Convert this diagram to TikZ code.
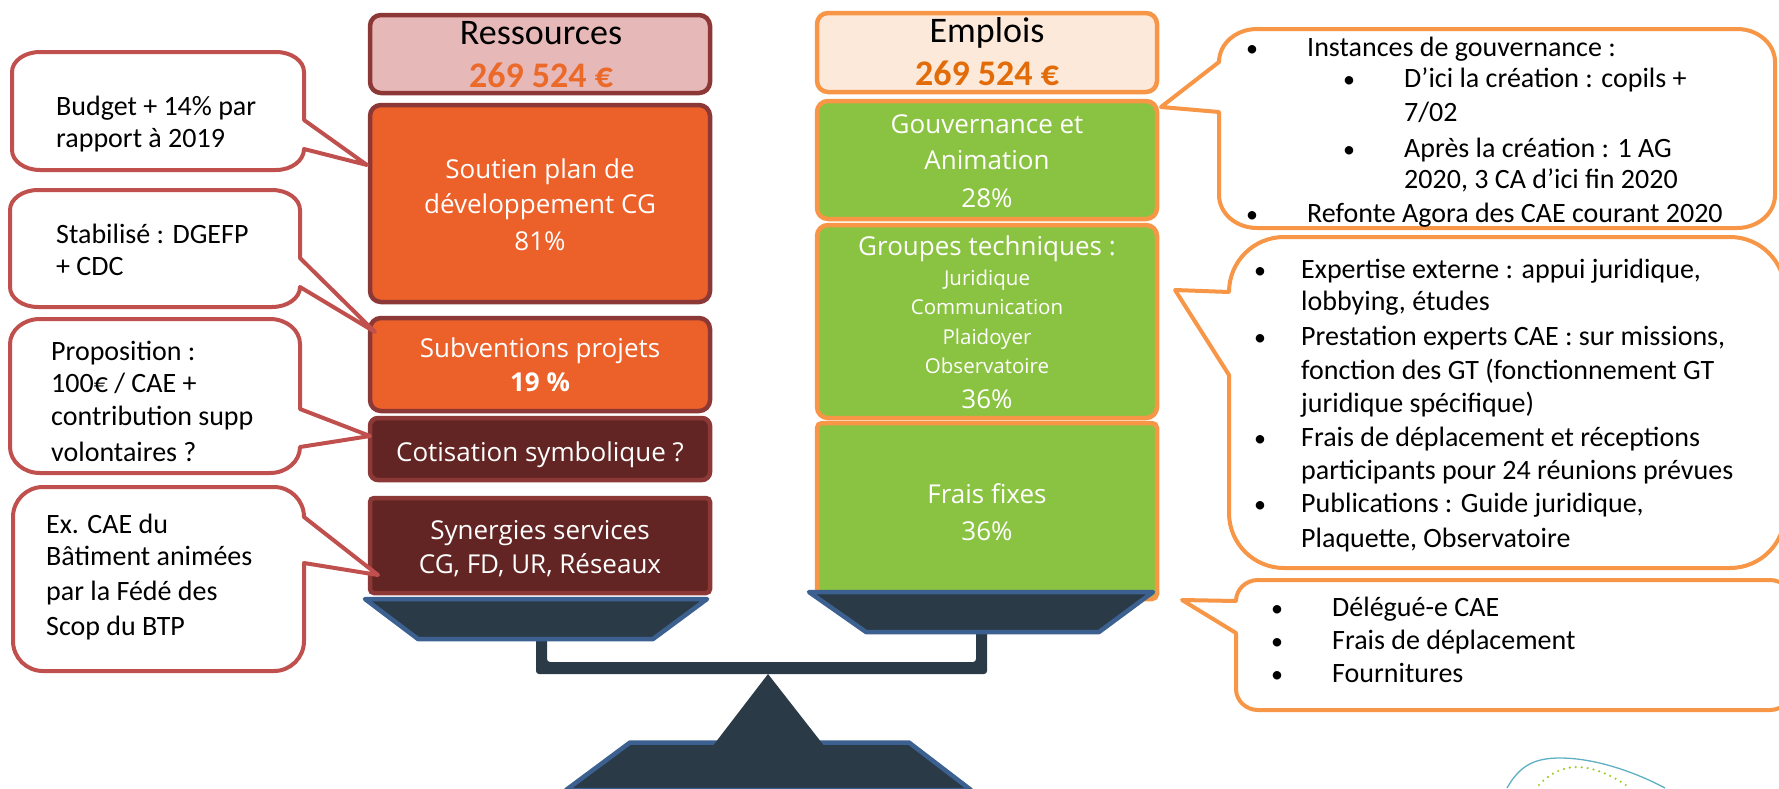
\documentclass[tikz,border=0pt]{standalone}
\usepackage{fontspec}
\setmainfont{Carlito}
\newfontfamily\whitefont{Open Sans}
\definecolor{redline}{HTML}{C0504D}
\definecolor{darkred}{HTML}{8C3836}
\definecolor{pinkfill}{HTML}{E6B8B7}
\definecolor{orangefill}{HTML}{EC602A}
\definecolor{brownfill}{HTML}{632523}
\definecolor{orangeline}{HTML}{F79646}
\definecolor{peach}{HTML}{FDE9D9}
\definecolor{greenfill}{HTML}{8AC341}
\definecolor{slatefill}{HTML}{2A3A47}
\definecolor{blueline}{HTML}{3C6090}
\definecolor{sumleft}{HTML}{EB6A2A}
\definecolor{sumright}{HTML}{E36C0A}
\definecolor{logoblue}{HTML}{5FB0C4}
\definecolor{logogreen}{HTML}{9BCB1E}
\tikzset{x=1pt,y=-1pt,
  rbox/.style={draw=darkred,line width=4.5pt,rounded corners=11pt},
  gbox/.style={draw=orangeline,line width=4.5pt,rounded corners=11pt,fill=greenfill},
  pan/.style={draw=blueline,line width=4.5pt,fill=slatefill,line join=round},
  redcall/.style={draw=redline,line width=4pt,fill=white,line join=round},
  orangecall/.style={draw=orangeline,line width=4pt,fill=white,line join=round},
  t/.style={anchor=base west,inner sep=0pt,font=\fontsize{28}{28}\selectfont,text=black},
  w/.style={anchor=base,inner sep=0pt,font=\whitefont\fontsize{26}{26}\selectfont,text=white},
  wsmall/.style={anchor=base,inner sep=0pt,font=\whitefont\fontsize{20.5}{20.5}\selectfont,text=white},
  hd/.style={anchor=base,inner sep=0pt,font=\fontsize{36}{36}\selectfont,text=black},
  sum/.style={anchor=base,inner sep=0pt,font=\bfseries\fontsize{36}{36}\selectfont},
  bu/.style={anchor=base,inner sep=0pt,font=\fontsize{24}{24}\selectfont,text=black},
}
\begin{document}
\begin{tikzpicture}
\useasboundingbox (0,0) rectangle (1779,788);
\begin{scope}
\clip (0,0) rectangle (1779,788);
% logo
\draw[color=logoblue,line width=1.3pt] (1507,788) .. controls (1520,765) and (1535,758) .. (1560,758) .. controls (1595,758) and (1635,772) .. (1665,788);
\draw[color=logogreen,line width=2.4pt,line cap=round,dash pattern=on 0pt off 6pt] (1539,785) .. controls (1550,773) and (1563,767) .. (1577,767) .. controls (1595,767) and (1615,777) .. (1630,788);
% stand
\path[pan] (630,742.5) -- (909,742.5) -- (971,790) -- (566,790) -- cycle;
\path[fill=slatefill] (768,674) -- (825,747) -- (712,747) -- cycle;
\fill[slatefill,rounded corners=3pt] (536,630) -- (547,630) -- (547,662) -- (976,662) -- (976,630) -- (987,630) -- (987,674) -- (536,674) -- cycle;
\end{scope}
% left boxes
\path[rbox,fill=pinkfill] (370,15) rectangle (710,93);
\node[hd] (resT) at (541,44) {Ressources};
\node[sum,text=sumleft] (resV) at (541,87) {269 524 €};
\path[rbox,fill=orangefill] (370,105) rectangle (710,302);
\node[w] (s1) at (540,178) {Soutien plan de};
\node[w] (s2) at (540,213) {développement CG};
\node[w] (s3) at (540,250) {81\%};
\path[rbox,fill=orangefill] (370,318) rectangle (710,411);
\node[w] (p1) at (540,357) {Subventions projets};
\node[w,font=\whitefont\bfseries\fontsize{26}{26}\selectfont] (p2) at (540,391) {19 \%};
\path[rbox,fill=brownfill,rounded corners=8pt,draw=darkred] (370,418) rectangle (710,480);
\node[w] (c1) at (540,461) {Cotisation symbolique ?};
\path[rbox,fill=brownfill,rounded corners=4pt,draw=darkred] (370,498) rectangle (710,593);
\node[w] (y1) at (540,539) {Synergies services};
\node[w] (y2) at (540,573) {CG, FD, UR, Réseaux};
\path[pan] (365,599) -- (707,599) -- (653,639) -- (418,639) -- cycle;
% right boxes
\path[rbox,fill=peach,draw=orangeline] (817,13) rectangle (1157,92);
\node[hd] (emT) at (987,42) {Emplois};
\node[sum,text=sumright] (emV) at (987,85) {269 524 €};
\path[gbox] (817,101) rectangle (1157,219);
\node[w] (g1) at (987,133) {Gouvernance et};
\node[w] (g2) at (987,169) {Animation};
\node[w] (g3) at (987,207) {28\%};
\path[gbox] (817,225) rectangle (1157,418);
\node[w] (h1) at (987,255) {Groupes techniques :};
\node[wsmall] (h2) at (987,285) {Juridique};
\node[wsmall] (h3) at (987,314) {Communication};
\node[wsmall] (h4) at (987,344) {Plaidoyer};
\node[wsmall] (h5) at (987,373) {Observatoire};
\node[w] (h6) at (987,408) {36\%};
\path[gbox,rounded corners=5pt] (817,423) rectangle (1157,599);
\node[w] (f1) at (987,503) {Frais fixes};
\node[w] (f2) at (987,540) {36\%};
\path[pan] (809,592) -- (1153,592) -- (1099,632) -- (866,632) -- cycle;
% left callouts
\path[redcall] (12,72) arc[start angle=180,end angle=90,x radius=28pt,y radius=20pt] -- (276,52) arc[start angle=90,end angle=0,x radius=28pt,y radius=20pt] -- (304,120) -- (367,165) -- (304,149) arc[start angle=0,end angle=-90,x radius=28pt,y radius=21pt] -- (40,170) arc[start angle=-90,end angle=-180,x radius=28pt,y radius=20pt] -- cycle;
\node[t] (l1) at (56,115) {Budget + 14\% par};
\node[t] (l2) at (56,147) {rapport à 2019};
\path[redcall] (10,210) arc[start angle=180,end angle=90,x radius=28pt,y radius=20pt] -- (272,190) arc[start angle=90,end angle=0,x radius=28pt,y radius=20pt] -- (300,258) -- (375,332) -- (300,287) arc[start angle=0,end angle=-90,x radius=28pt,y radius=20pt] -- (38,307) arc[start angle=-90,end angle=-180,x radius=28pt,y radius=20pt] -- cycle;
\node[t] (m1) at (56,243) {Stabilisé : DGEFP};
\node[t] (m2) at (56,275) {+ CDC};
\path[redcall] (10,344) arc[start angle=180,end angle=90,x radius=30pt,y radius=25pt] -- (270,319) arc[start angle=90,end angle=0,x radius=30pt,y radius=25pt] -- (300,409) -- (370,436) -- (300,447) arc[start angle=0,end angle=-90,x radius=30pt,y radius=26pt] -- (40,473) arc[start angle=-90,end angle=-180,x radius=30pt,y radius=26pt] -- cycle;
\node[t] (n1) at (51,360) {Proposition :};
\node[t] (n2) at (51,392) {100€ / CAE +};
\node[t] (n3) at (51,425) {contribution supp};
\node[t] (n4) at (51,461) {volontaires ?};
\path[redcall] (13,517) arc[start angle=180,end angle=90,x radius=30pt,y radius=30pt] -- (274,487) arc[start angle=90,end angle=0,x radius=30pt,y radius=30pt] -- (378,575) -- (304,563) -- (304,641) arc[start angle=0,end angle=-90,x radius=30pt,y radius=30pt] -- (43,671) arc[start angle=-90,end angle=-180,x radius=30pt,y radius=30pt] -- cycle;
\node[t] (o1) at (46,533) {Ex. CAE du};
\node[t] (o2) at (46,565) {Bâtiment animées};
\node[t] (o3) at (46,600) {par la Fédé des};
\node[t] (o4) at (46,635) {Scop du BTP};
% right callouts
\path[orangecall] (1219,62) arc[start angle=180,end angle=90,x radius=38pt,y radius=33pt] -- (1737,29) arc[start angle=90,end angle=0,x radius=38pt,y radius=33pt] -- (1775,195) arc[start angle=0,end angle=-90,x radius=38pt,y radius=33pt] -- (1257,228) arc[start angle=-90,end angle=-180,x radius=38pt,y radius=33pt] -- (1219,112) -- (1161,107) -- cycle;
\node[bu] (a0) at (1252,56) {•};
\node[t] (a1) at (1307,56) {Instances de gouvernance :};
\node[bu] (a2) at (1349,87) {•};
\node[t] (a3) at (1404,87) {D’ici la création : copils +};
\node[t] (a4) at (1404,121) {7/02};
\node[bu] (a5) at (1349,157) {•};
\node[t] (a6) at (1404,157) {Après la création : 1 AG};
\node[t] (a7) at (1404,188) {2020, 3 CA d’ici fin 2020};
\node[bu] (a8) at (1252,222) {•};
\node[t] (a9) at (1307,222) {Refonte Agora des CAE courant 2020};
\begin{scope}
\clip (0,0) rectangle (1779,788);
\path[orangecall] (1229,292) arc[start angle=180,end angle=90,x radius=55pt,y radius=55pt] -- (1730,237) arc[start angle=90,end angle=0,x radius=55pt,y radius=55pt] -- (1785,513) arc[start angle=0,end angle=-90,x radius=55pt,y radius=55pt] -- (1284,568) arc[start angle=-90,end angle=-180,x radius=55pt,y radius=55pt] -- (1229,375) -- (1175,290) -- cycle;
\path[orangecall] (1236,601) arc[start angle=180,end angle=90,x radius=22pt,y radius=21pt] -- (1770,580) arc[start angle=90,end angle=0,x radius=22pt,y radius=21pt] -- (1792,689) arc[start angle=0,end angle=-90,x radius=22pt,y radius=21pt] -- (1258,710) arc[start angle=-90,end angle=-180,x radius=22pt,y radius=21pt] -- (1236,633) -- (1182,600) -- cycle;
\end{scope}
\node[bu] (b0) at (1260,278) {•};
\node[t] (b1) at (1301,278) {Expertise externe : appui juridique,};
\node[t] (b2) at (1301,310) {lobbying, études};
\node[bu] (b3) at (1260,345) {•};
\node[t] (b4) at (1301,345) {Prestation experts CAE : sur missions,};
\node[t] (b5) at (1301,379) {fonction des GT (fonctionnement GT};
\node[t] (b6) at (1301,412) {juridique spécifique)};
\node[bu] (b7) at (1260,446) {•};
\node[t] (b8) at (1301,446) {Frais de déplacement et réceptions};
\node[t] (b9) at (1301,479) {participants pour 24 réunions prévues};
\node[bu] (b10) at (1260,512) {•};
\node[t] (b11) at (1301,512) {Publications : Guide juridique,};
\node[t] (b12) at (1301,547) {Plaquette, Observatoire};
\node[bu] (d0) at (1277,616) {•};
\node[t] (d1) at (1332,616) {Délégué-e CAE};
\node[bu] (d2) at (1277,649) {•};
\node[t] (d3) at (1332,649) {Frais de déplacement};
\node[bu] (d4) at (1277,682) {•};
\node[t] (d5) at (1332,682) {Fournitures};
\end{tikzpicture}
\end{document}
